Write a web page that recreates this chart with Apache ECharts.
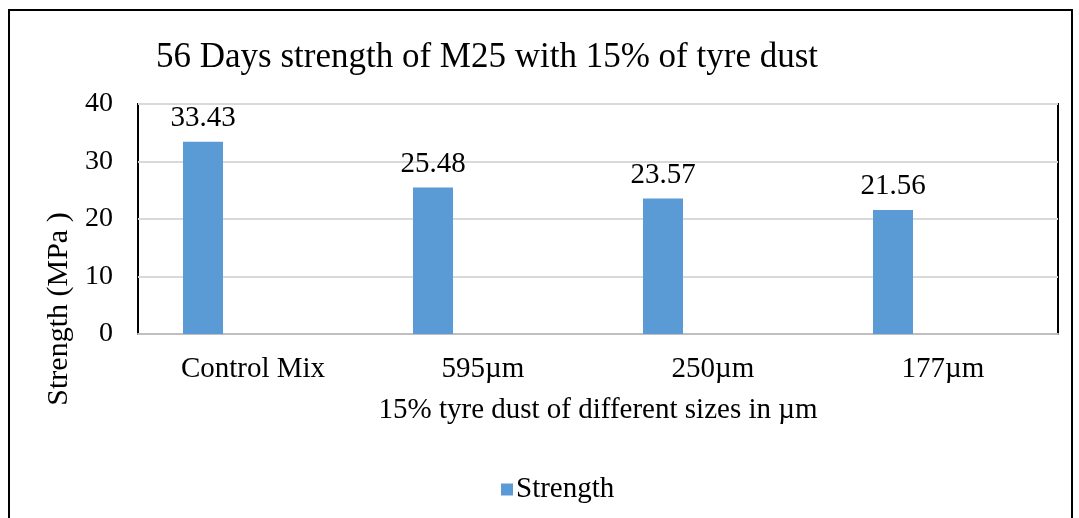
<!DOCTYPE html>
<html>
<head>
<meta charset="utf-8">
<script src="https://cdn.jsdelivr.net/npm/echarts@6/dist/echarts.min.js"></script>
<style>
  html, body { margin: 0; padding: 0; background: #fff; }
  #chart { width: 1079px; height: 518px; }
</style>
</head>
<body>
<div id="chart"></div>
<script>
// chart data
var categories = ['Control Mix', '595\u00b5m', '250\u00b5m', '177\u00b5m'];
var strength = [33.43, 25.48, 23.57, 21.56];
var emptySeries = [null, null, null, null]; // second (blank) series, as in the source sheet
var yTicks = [0, 10, 20, 30, 40];

var serif = '"Liberation Serif", "DejaVu Serif", serif';

var chart = echarts.init(document.getElementById('chart'));

var option = {
    backgroundColor: '#fff',
    animation: false,
    title: {
        text: '56 Days strength of M25 with 15% of tyre dust',
        left: 151,
        top: 35,
        textStyle: { fontFamily: serif, fontSize: 35, fontWeight: 'normal', color: '#000' }
    },
    legend: {
        data: ['Strength'],
        left: 496,
        top: 470,
        icon: 'rect',
        itemWidth: 12,
        itemHeight: 12,
        itemGap: 4,
        textStyle: { fontFamily: serif, fontSize: 29, color: '#000', padding: [0, 0, 0, -2] }
    },
    grid: {
        left: 138,
        top: 104,
        right: 21,
        bottom: 184,
        show: true,
        borderColor: '#000',
        borderWidth: 2
    },
    xAxis: {
        type: 'category',
        data: categories,
        name: '15% tyre dust of different sizes in \u00b5m',
        nameLocation: 'middle',
        nameGap: 62,
        nameTextStyle: { fontFamily: serif, fontSize: 29, color: '#000' },
        axisLine: { lineStyle: { color: '#bfbfbf', width: 2 } },
        axisTick: { show: false },
        axisLabel: { fontFamily: serif, fontSize: 29, color: '#000', margin: 21 }
    },
    yAxis: {
        type: 'value',
        min: yTicks[0],
        max: yTicks[yTicks.length - 1],
        interval: 10,
        name: 'Strength (MPa )',
        nameLocation: 'middle',
        nameGap: 61,
        nameTextStyle: { fontFamily: serif, fontSize: 30, color: '#000', padding: [0, 180, 0, 0] },
        axisLine: { show: false },
        axisTick: { show: false },
        splitLine: { lineStyle: { color: '#d9d9d9', width: 2 } },
        axisLabel: { fontFamily: serif, fontSize: 28, color: '#000', margin: 25 }
    },
    series: [
        {
            name: 'Strength',
            type: 'bar',
            data: strength,
            barWidth: 40,
            barGap: '150%',
            itemStyle: { color: '#5b9bd5' },
            label: {
                show: true,
                position: 'top',
                distance: 9,
                fontFamily: serif,
                fontSize: 29,
                color: '#000'
            }
        },
        {
            name: 'blank',
            type: 'bar',
            data: emptySeries,
            barWidth: 40,
            itemStyle: { color: '#ed7d31' }
        }
    ],
    graphic: [
        {
            type: 'rect',
            shape: { x: 9, y: 10, width: 1063, height: 530 },
            style: { fill: 'none', stroke: '#000', lineWidth: 2 },
            silent: true
        }
    ]
};

chart.setOption(option);
</script>
</body>
</html>
